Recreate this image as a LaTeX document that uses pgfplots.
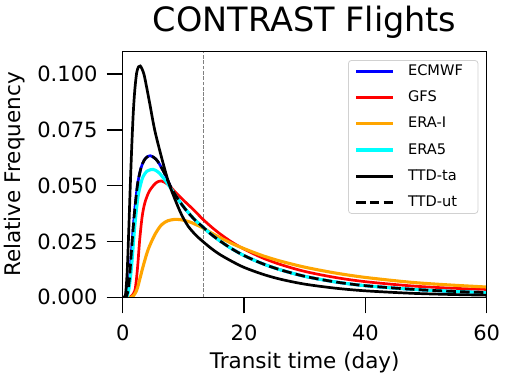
\documentclass[border=0pt]{standalone}
\usepackage{pgfplots}
\pgfplotsset{compat=1.18}
\usepackage{fontspec}
\setmainfont{DejaVu Sans}
\definecolor{mplorange}{RGB}{255,165,0}
\definecolor{mplcyan}{RGB}{0,255,255}
\definecolor{mplblue}{RGB}{0,0,255}
\definecolor{mplred}{RGB}{255,0,0}
\begin{document}
\begin{tikzpicture}
\path[use as bounding box] (0pt,0pt) rectangle (512pt,378pt);
\begin{axis}[
  scale only axis,
  width=364pt, height=245.6pt,
  at={(122.7pt,80.7pt)}, anchor=south west,
  xmin=0, xmax=60, ymin=0, ymax=0.110,
  xtick={0,20,40,60},
  ytick={0,0.025,0.05,0.075,0.1},
  tick pos=left,
  tick align=outside,
  major tick length=16pt,
  every tick/.style={black, line width=1.4pt},
  axis line style={black, line width=1.4pt},
  axis on top,
  /pgf/number format/assume math mode=true,
  yticklabel style={/pgf/number format/fixed, /pgf/number format/fixed zerofill, /pgf/number format/precision=3},
  scaled y ticks=false,
  ticklabel style={font=\fontsize{21}{25}\selectfont},
  yticklabel style={inner sep=0pt, anchor=east, xshift=-9pt},
  xticklabel style={inner sep=0pt, anchor=north, yshift=-11pt},
  xlabel={Transit time (day)},
  ylabel={Relative Frequency},
  label style={font=\fontsize{21.5}{25}\selectfont},
  xlabel style={at={(axis description cs:0.5,-0.2919)}, anchor=base, inner sep=0pt},
  ylabel style={at={(axis description cs:-0.2794,0.5)}, anchor=base, inner sep=0pt},
  title={CONTRAST Flights},
  title style={at={(axis description cs:0.5,1.058)}, anchor=base, inner sep=0pt, font=\fontsize{33.5}{40}\selectfont},
  legend cell align=left,
  legend image code/.code={\draw[#1] (0pt,0pt) -- (37pt,0pt);},
  legend style={at={(0.977,0.966)}, anchor=north east,
    draw=black!18, line width=0.8pt, rounded corners=3pt,
    font=\fontsize{14.6}{17}\selectfont,
    inner xsep=6pt, inner ysep=4pt,
    row sep=12.2pt, column sep=13.5pt,
    nodes={inner sep=0pt, text height=11pt, text depth=3pt}},
  every axis plot/.append style={line width=2.7pt, smooth, tension=0.5},
]
\addplot[gray, line width=1pt, dash pattern=on 3.7pt off 1.6pt, sharp plot, forget plot] coordinates {(13.4,0) (13.4,0.11)};

% ECMWF
\addplot[mplblue] coordinates {
(0,0) (0.5,0) (0.8,0.002) (1.1,0.008) (1.42,0.0197) (1.7,0.030) (1.98,0.039) (2.25,0.046) (2.5,0.0515)
(3.0,0.0578) (3.5,0.0612) (4.0,0.0628) (4.55,0.0634) (5.2,0.0625) (5.82,0.0607) (6.9,0.0555)
(8.0,0.049) (9,0.0445) (10,0.0406) (11,0.0373) (12,0.0344) (13,0.0320) (14.5,0.0284) (16,0.0253)
(18,0.0217) (20,0.0187) (23,0.0151) (26,0.0123) (30,0.0094) (35,0.0069) (40,0.0052) (47.6,0.0036)
(54,0.0027) (60,0.0021)};
\addlegendentry{ECMWF\hspace*{9pt}}
% GFS
\addplot[mplred] coordinates {
(0,0) (1.2,0) (1.6,0.001) (2.0,0.003) (2.25,0.0077) (2.5,0.015) (2.8,0.0257) (3.2,0.036) (3.62,0.042)
(4.2,0.0465) (4.7,0.0488) (5.5,0.0513) (6.37,0.0521) (7.47,0.0505) (8.85,0.0466) (10.2,0.0430)
(11.3,0.0402) (12.4,0.0372) (13,0.0355) (14.5,0.0318) (16,0.0285) (18,0.0247) (20,0.0216)
(23,0.0177) (26,0.0147) (30,0.0116) (35,0.0089) (40,0.0070) (47.6,0.0051) (54,0.0041) (60,0.0035)};
\addlegendentry{GFS}
% ERA-I
\addplot[mplorange, line width=3.1pt] coordinates {
(0,0) (1.4,0) (1.8,0.0008) (2.2,0.0025) (2.5,0.0048) (2.9,0.009) (3.35,0.0137) (4.17,0.0212)
(5.27,0.0279) (6.37,0.0324) (7.47,0.0343) (8.6,0.0349) (9.4,0.0348) (10.2,0.0344) (11.3,0.0335)
(12.2,0.0324) (13,0.0314) (14.5,0.0290) (16,0.0268) (18,0.0241) (20,0.0218) (23,0.0187)
(26,0.0162) (30,0.0135) (35,0.0109) (40,0.0089) (47.6,0.0067) (54,0.0055) (60,0.0046)};
\addlegendentry{ERA-I}
% ERA5
\addplot[mplcyan, line width=3.1pt] coordinates {
(0,0) (0.6,0) (0.9,0.002) (1.2,0.007) (1.5,0.015) (1.98,0.0316) (2.52,0.045) (3.0,0.051) (3.35,0.054)
(4.0,0.0565) (5.0,0.0573) (5.8,0.0562) (6.4,0.0545) (7.5,0.0505) (8.6,0.0460) (9.5,0.0425)
(10.5,0.0390) (11.5,0.0359) (12.3,0.0337) (13,0.0320) (14.5,0.0284) (16,0.0253)
(18,0.0217) (20,0.0187) (23,0.0151) (26,0.0123) (30,0.0094) (35,0.0069) (40,0.0052) (47.6,0.0036)
(54,0.0027) (60,0.0021)};
\addlegendentry{ERA5}
% TTD-ta
\addplot[black] coordinates {
(0,0) (0.3,0) (0.5,0.002) (0.75,0.012) (1.0,0.030) (1.25,0.050) (1.5,0.068) (1.75,0.083) (2.0,0.093)
(2.3,0.1005) (2.6,0.1032) (2.9,0.1036) (3.2,0.1022) (3.6,0.0988) (4.45,0.0869) (5.27,0.075)
(6.37,0.063) (7.5,0.052) (8.6,0.044) (9.7,0.037) (10.8,0.0318) (12,0.0280) (13,0.0255)
(14.5,0.0221) (16,0.0192) (18,0.0161) (20,0.0134) (23,0.0104) (26,0.0081) (30,0.0059)
(35,0.0041) (40,0.0029) (47.6,0.0018) (54,0.00127) (60,0.00095)};
\addlegendentry{TTD-ta}
% TTD-ut
\addplot[black, dash pattern=on 9.6pt off 4.2pt] coordinates {
(0,0) (0.5,0) (0.8,0.002) (1.1,0.008) (1.42,0.0197) (1.7,0.030) (1.98,0.039) (2.25,0.046) (2.5,0.0515)
(3.0,0.0578) (3.5,0.0612) (4.0,0.0628) (4.55,0.0634) (5.2,0.0625) (5.82,0.0607) (6.9,0.0555)
(8.0,0.049) (9,0.0445) (10,0.0406) (11,0.0373) (12,0.0344) (13,0.0320) (14.5,0.0284) (16,0.0253)
(18,0.0217) (20,0.0187) (23,0.0151) (26,0.0123) (30,0.0094) (35,0.0069) (40,0.0052) (47.6,0.0036)
(54,0.0027) (60,0.0021)};
\addlegendentry{TTD-ut}
\end{axis}
\end{tikzpicture}
\end{document}
